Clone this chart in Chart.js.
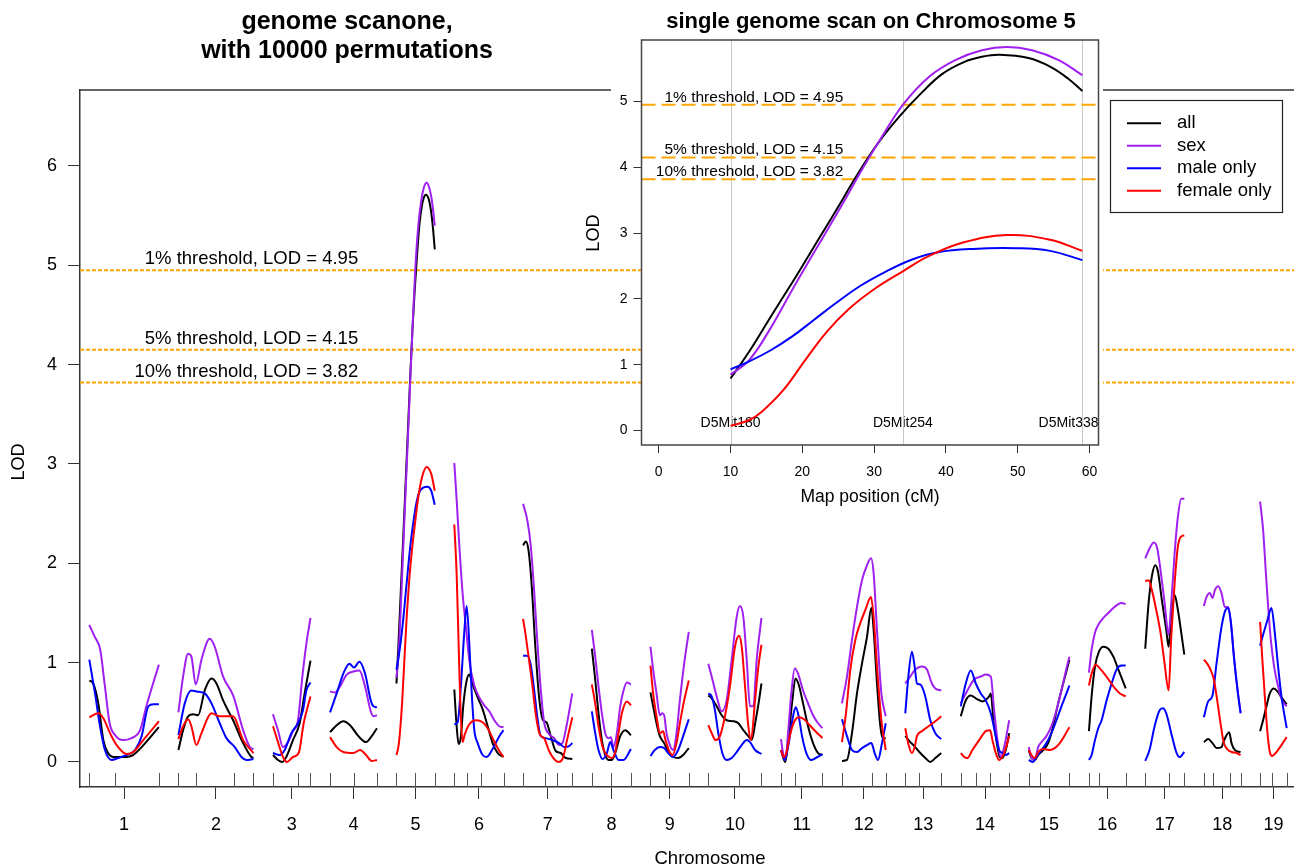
<!DOCTYPE html>
<html><head><meta charset="utf-8">
<script src="https://cdn.jsdelivr.net/npm/chart.js@4.4.1/dist/chart.umd.min.js"></script>
<style>
html,body{margin:0;padding:0;background:#fff;overflow:hidden;}
#wrap{position:relative;width:1294px;height:867px;overflow:hidden;background:#fff;}
#main{position:absolute;left:0;top:0;}
#inset{position:absolute;left:570px;top:0;}
</style></head><body>
<div id="wrap"><canvas id="main" width="1400" height="867"></canvas><canvas id="inset" width="533" height="506"></canvas></div>
<script>
// ---------------- data ----------------
const chromosomes = ['1','2','3','4','5','6','7','8','9','10','11','12','13','14','15','16','17','18','19'];
// marker positions (cM) per chromosome
const markers = [
  [0,33,89],[0,23,71,96],[0,32,48],[0,31,60],[10,34,59],[0,16,34,63],[0,28,44,63],
  [0,24,50],[0,18,49],[0,39,68],[0,18,53],[0,38,56],[0,17,46],[0,19,38,62],
  [0,15,52],[0,13,47],[0,30,50],[0,12,33,47],[0,15,34]
];
const chrGap = 25;
const seriesNames = ['all','sex','male only','female only'];
const seriesColors = ['#000000','#A020F0','#0000FF','#FF0000'];
const thresholds = [4.95, 4.15, 3.82];
const thresholdLabels = ['1% threshold, LOD = 4.95','5% threshold, LOD = 4.15','10% threshold, LOD = 3.82'];
const chr5MarkerNames = ['D5Mit180','D5Mit254','D5Mit338'];
const mainYTicks = [0,1,2,3,4,5,6];
const insetXTicks = [0,10,20,30,40,50,60];
const insetYTicks = [0,1,2,3,4,5];

// chromosome 5 scan (cM, LOD)
const chr5All = [[10,0.79],[12.6,1.20],[15.6,1.73],[18.6,2.25],[21,2.68],[23,3.04],[25,3.40],[27.5,3.86],[30.5,4.36],[33.5,4.77],[36.5,5.12],[39.5,5.42],[42.5,5.60],[45,5.68],[47.5,5.71],[51.5,5.66],[54.5,5.53],[57,5.35],[59,5.16]];
const chr5Sex = [[10,0.85],[12.6,1.07],[15.6,1.56],[18.6,2.14],[21.6,2.70],[23.6,3.07],[26,3.52],[28.5,4.00],[31,4.45],[34,4.95],[37.7,5.38],[41.3,5.63],[45,5.78],[48.5,5.83],[52,5.78],[55.7,5.63],[59,5.40]];
const chr5Male = [[10,0.93],[12.6,1.05],[15.6,1.22],[18.6,1.43],[21.6,1.68],[24.6,1.93],[28.1,2.20],[31.7,2.42],[35.3,2.60],[38.9,2.71],[43.7,2.76],[49.7,2.77],[54.5,2.73],[59,2.59]];
const chr5Female = [[10,0.07],[12.6,0.16],[14.4,0.29],[17.4,0.62],[20.4,1.07],[23.4,1.50],[26.4,1.84],[29.9,2.14],[34,2.42],[37.4,2.64],[42.5,2.86],[48.5,2.97],[54.5,2.90],[59,2.73]];

// genome-wide scans, one list of (cM, LOD) per chromosome
const lodAll = [
  [[0,0.82],[5,0.79],[11.5,0.59],[18,0.22],[24,0.09],[30.7,0.05],[43.5,0.05],[56,0.07],[67,0.15],[89,0.35]],
  [[0,0.12],[6,0.32],[12.4,0.46],[18.8,0.48],[25.2,0.47],[33.7,0.72],[42.3,0.84],[48.7,0.79],[57.2,0.62],[70,0.42],[82.8,0.19],[93.4,0.05],[96,0.04]],
  [[0,0.07],[6.4,0.02],[12,0.0],[17,0.05],[25.6,0.22],[34.1,0.39],[40.5,0.69],[48,1.02]],
  [[0,0.30],[8.5,0.37],[17,0.41],[25.6,0.37],[36.3,0.26],[46.1,0.20],[53.3,0.26],[60,0.34]],
  chr5All,
  [[0,0.73],[3,0.36],[5.5,0.18],[8.5,0.26],[11.5,0.57],[15.8,0.82],[19.2,0.88],[23.5,0.78],[29.9,0.65],[36.3,0.53],[42.7,0.36],[49,0.19],[55.5,0.09],[63,0.05]],
  [[0,2.18],[3.4,2.22],[6.8,2.14],[11.1,1.77],[15.4,1.19],[20.5,0.65],[25.6,0.42],[29.9,0.40],[35.4,0.26],[41.8,0.11],[48.2,0.09],[54.6,0.04],[63,0.03]],
  [[0,1.14],[4.3,0.83],[8.5,0.49],[12.8,0.22],[17.1,0.07],[21.3,0.02],[25.6,0.02],[29.9,0.09],[36.3,0.26],[42.7,0.32],[50,0.27]],
  [[0,0.70],[3.4,0.56],[7.7,0.39],[12,0.26],[17.5,0.19],[22.6,0.10],[29,0.05],[35.4,0.04],[41.8,0.07],[49,0.14]],
  [[0,0.67],[4.3,0.64],[10.7,0.56],[17.1,0.47],[23.5,0.42],[32,0.41],[38.4,0.39],[44.8,0.32],[51.2,0.26],[55.5,0.22],[60.6,0.42],[64.9,0.62],[68,0.79]],
  [[0,0.12],[2.6,0.05],[5.5,0.0],[9.8,0.26],[14.5,0.62],[18.4,0.84],[22.6,0.78],[28.2,0.59],[34.6,0.36],[41,0.19],[47.4,0.09],[53,0.07]],
  [[0,0.01],[6.4,0.02],[12.8,0.29],[19.2,0.69],[25.6,0.99],[32,1.26],[37.6,1.55],[40.5,1.33],[44.8,0.79],[49.1,0.36],[52.1,0.24],[56,0.24]],
  [[0,0.26],[6.4,0.20],[12.8,0.15],[19.2,0.09],[25.6,0.04],[32,0.0],[38.4,0.04],[46,0.09]],
  [[0,0.46],[6.4,0.62],[12.8,0.67],[19.2,0.64],[27.7,0.61],[36.3,0.66],[38.4,0.69],[41.8,0.42],[46.1,0.19],[49.9,0.05],[53.3,0.04],[57.6,0.12],[62,0.29]],
  [[0,0.12],[3.4,0.04],[7.7,0.02],[12,0.07],[18.4,0.12],[24.8,0.19],[31.2,0.36],[37.6,0.59],[44,0.79],[49.1,0.94],[52,1.03]],
  [[0,0.31],[3.4,0.66],[7.7,0.96],[12.8,1.11],[18.4,1.16],[24.8,1.14],[31.2,1.06],[37.6,0.93],[42.7,0.83],[47,0.74]],
  [[0,1.14],[4.3,1.60],[8.5,1.87],[12.8,1.98],[16.2,1.92],[21.3,1.63],[26.9,1.33],[29.9,1.16],[33.3,1.46],[37.6,1.68],[41.8,1.53],[46.1,1.30],[50,1.08]],
  [[0,0.20],[5.5,0.23],[11.1,0.19],[16.2,0.14],[22.6,0.15],[26,0.22],[32.4,0.30],[35.4,0.19],[39.7,0.12],[47,0.10]],
  [[0,0.31],[3.8,0.42],[8.1,0.56],[12.4,0.69],[17.5,0.74],[22.2,0.71],[27.3,0.65],[34,0.58]]
];
const lodSex = [
  [[0,1.38],[7,1.26],[14,1.13],[20,0.76],[26,0.39],[33,0.27],[43,0.22],[54,0.24],[65,0.32],[73,0.56],[89,0.98]],
  [[0,0.50],[6,0.86],[12.4,1.09],[16.6,1.06],[22.2,0.78],[29.5,1.03],[40.1,1.24],[46.5,1.16],[57.2,0.86],[70,0.67],[82.8,0.32],[91.3,0.15],[96,0.13]],
  [[0,0.48],[6.4,0.32],[12.8,0.15],[19.2,0.20],[25.6,0.31],[32,0.42],[37.6,0.86],[42.7,1.19],[48,1.45]],
  [[0,0.71],[6.4,0.70],[12.8,0.76],[21.3,0.88],[29.9,0.91],[37.6,0.92],[44.8,0.76],[52.1,0.51],[55.5,0.46],[60,0.47]],
  chr5Sex,
  [[0,3.01],[3,2.64],[6.4,2.18],[10.7,1.69],[15,1.35],[19.2,1.02],[25.6,0.77],[32,0.65],[38.4,0.57],[44.8,0.51],[51.2,0.42],[57.6,0.36],[63,0.35]],
  [[0,2.60],[5.5,2.43],[9.8,2.18],[14.1,1.73],[18.4,1.19],[22.6,0.73],[26.9,0.40],[33.3,0.28],[39.7,0.24],[46.1,0.17],[50.4,0.19],[55.5,0.36],[63,0.69]],
  [[0,1.33],[4.3,1.06],[8.5,0.76],[12.8,0.49],[17.1,0.29],[21.3,0.24],[24.3,0.25],[27.7,0.15],[32,0.29],[36.3,0.56],[40.5,0.72],[44.8,0.80],[50,0.78]],
  [[0,1.16],[3.4,0.93],[7.7,0.69],[12,0.47],[15,0.49],[17.5,0.47],[20.5,0.29],[24.8,0.17],[29,0.12],[33.3,0.29],[37.6,0.62],[43.1,0.99],[49,1.31]],
  [[0,0.99],[4.3,0.86],[10.7,0.66],[17.1,0.51],[23.5,0.62],[29.9,1.03],[36.3,1.46],[40.5,1.57],[44.8,1.46],[49.1,1.03],[53.3,0.56],[57.6,0.56],[61.9,1.03],[68,1.45]],
  [[0,0.23],[2.6,0.09],[5.5,0.02],[9,0.29],[13.2,0.69],[17.5,0.94],[21.8,0.89],[28.2,0.72],[34.6,0.59],[41,0.47],[47.4,0.39],[53,0.34]],
  [[0,0.59],[6.4,0.86],[12.8,1.23],[19.2,1.56],[25.6,1.83],[32,1.98],[37.1,2.05],[40.5,1.90],[44.8,1.33],[50.4,0.69],[56,0.46]],
  [[0,0.79],[6.4,0.86],[12.8,0.93],[21.3,0.96],[27.7,0.93],[34.1,0.79],[38.4,0.74],[46,0.72]],
  [[0,0.59],[8.5,0.72],[17.1,0.83],[25.6,0.86],[32,0.88],[38.4,0.86],[42.7,0.52],[47,0.22],[51.2,0.05],[55.5,0.15],[62,0.42]],
  [[0,0.15],[3.4,0.05],[7.7,0.02],[12,0.15],[16.2,0.20],[22.6,0.26],[29,0.36],[35.4,0.52],[41.8,0.72],[48.2,0.94],[52,1.06]],
  [[0,0.90],[3.4,1.13],[7.7,1.30],[11.9,1.38],[18.4,1.45],[24.8,1.50],[31.2,1.55],[37.6,1.59],[41.8,1.60],[47,1.59]],
  [[0,2.05],[5.5,2.15],[11.1,2.21],[15.4,2.15],[19.6,1.93],[24.8,1.60],[29.9,1.28],[33.3,1.60],[37.6,2.10],[41.8,2.47],[46.1,2.65],[50,2.65]],
  [[0,1.57],[3.4,1.66],[7.7,1.70],[11.1,1.65],[14.1,1.73],[18.4,1.77],[22.6,1.70],[26.9,1.56],[31.2,1.56],[34.6,1.41],[38.8,1.04],[43.1,0.73],[47,0.50]],
  [[0,2.62],[3.8,2.34],[7.3,1.91],[10.2,1.57],[13.7,1.23],[17.9,0.96],[23,0.76],[28.2,0.62],[34,0.56]]
];
const lodMale = [
  [[0,1.03],[7.3,0.69],[13.7,0.36],[20,0.12],[28.6,0.02],[37,0.04],[47.8,0.07],[58.5,0.12],[67,0.26],[75.5,0.56],[82,0.58],[89,0.58]],
  [[0,0.27],[8.1,0.59],[16.6,0.72],[23,0.71],[33.7,0.69],[42.3,0.59],[52.9,0.39],[61.5,0.24],[72.1,0.15],[80.7,0.05],[87,0.02],[96,0.03]],
  [[0,0.09],[8.5,0.07],[15,0.12],[23.5,0.29],[32,0.39],[38.4,0.52],[42.7,0.72],[48,0.80]],
  [[0,0.50],[8.5,0.69],[17,0.89],[24.8,0.99],[30.7,0.95],[37.6,1.01],[44.8,0.89],[52.1,0.62],[55.5,0.56],[60,0.55]],
  chr5Male,
  [[0,0.38],[4.3,0.40],[8.5,0.77],[12.8,1.31],[15.8,1.57],[19.2,1.19],[22.6,0.65],[25.6,0.32],[29.9,0.19],[36.3,0.07],[41.4,0.05],[49,0.13],[57.6,0.26],[63,0.32]],
  [[0,1.07],[5.5,1.07],[9.8,0.98],[14.1,0.73],[18.4,0.44],[22.6,0.26],[29,0.24],[37.6,0.22],[46.1,0.19],[52.5,0.15],[58.9,0.16],[63,0.19]],
  [[0,0.51],[4.3,0.29],[8.5,0.12],[13.7,0.03],[19.2,0.09],[23.5,0.20],[27.7,0.12],[34.1,0.02],[40.5,0.02],[50,0.13]],
  [[0,0.06],[5.5,0.12],[12,0.15],[17.5,0.14],[22.6,0.09],[29,0.05],[35.4,0.12],[41.8,0.26],[49,0.43]],
  [[0,0.69],[4.3,0.66],[8.5,0.52],[12.8,0.29],[17.9,0.09],[23.5,0.02],[29.9,0.04],[36.3,0.10],[42.7,0.17],[49.1,0.22],[53.3,0.20],[59.8,0.12],[68,0.08]],
  [[0,0.12],[4.7,0.02],[9,0.15],[15.4,0.46],[18.8,0.55],[22.6,0.46],[26.9,0.26],[32.4,0.09],[38.8,0.02],[46.5,0.05],[53,0.08]],
  [[0,0.43],[6.4,0.26],[12.8,0.12],[19.2,0.10],[25.6,0.14],[32,0.17],[37.6,0.19],[41.8,0.09],[46.1,0.02],[51.2,0.19],[56,0.39]],
  [[0,0.49],[4.3,0.89],[8.5,1.11],[12,0.96],[14.9,0.79],[19.2,0.78],[25.6,0.66],[32,0.42],[38.4,0.29],[46,0.23]],
  [[0,0.56],[6.4,0.79],[12.8,0.92],[19.2,0.79],[25.6,0.69],[32,0.62],[38.4,0.49],[44.8,0.26],[49.1,0.12],[53.3,0.09],[57.6,0.07],[62,0.09]],
  [[0,0.02],[5.5,0.0],[9.8,0.05],[16.2,0.12],[22.6,0.19],[29,0.29],[35.4,0.42],[41.8,0.56],[48.2,0.69],[52,0.77]],
  [[0,0.02],[3.4,0.07],[7.7,0.22],[11.9,0.34],[16.2,0.42],[22.6,0.62],[29,0.79],[35.4,0.93],[41.8,0.97],[47,0.97]],
  [[0,0.01],[5.5,0.12],[12,0.36],[18.4,0.52],[22.6,0.54],[26.9,0.49],[33.3,0.29],[39.7,0.10],[44,0.05],[50,0.10]],
  [[0,0.45],[5.5,0.61],[11.1,0.67],[16.2,0.99],[22.6,1.36],[27.7,1.53],[31.2,1.55],[34.6,1.40],[38.8,1.03],[43.1,0.72],[47,0.49]],
  [[0,1.17],[3.8,1.28],[9.4,1.43],[14.5,1.55],[18.8,1.30],[23,0.96],[27.3,0.66],[34,0.34]]
];
const lodFemale = [
  [[0,0.45],[11.5,0.49],[17.9,0.44],[26.5,0.29],[35,0.17],[47.8,0.08],[56.3,0.10],[69,0.22],[89,0.41]],
  [[0,0.23],[6,0.36],[12.4,0.43],[16.6,0.36],[23,0.17],[29.5,0.29],[42.3,0.49],[52.9,0.46],[70,0.46],[82.8,0.22],[96,0.09]],
  [[0,0.36],[6.4,0.20],[12.8,0.05],[17.9,0.0],[25.6,0.05],[32.9,0.09],[39.3,0.39],[48,0.66]],
  [[0,0.25],[8.5,0.15],[17,0.10],[29.9,0.09],[38.4,0.12],[46.1,0.07],[53.3,0.01],[60,0.02]],
  chr5Female,
  [[0,2.39],[3,1.89],[5.5,1.19],[7.8,0.57],[10.5,0.20],[13.5,0.28],[19.2,0.38],[27.7,0.42],[36.3,0.40],[42.7,0.34],[49,0.24],[57.6,0.11],[63,0.05]],
  [[0,1.44],[3.4,1.27],[7.7,1.02],[11.9,0.77],[16.2,0.48],[21.3,0.28],[26.9,0.24],[33.3,0.11],[39.7,0.03],[45.2,0.0],[50.4,0.03],[56.8,0.24],[63,0.45]],
  [[0,0.78],[4.3,0.59],[8.5,0.36],[13.7,0.15],[19.2,0.07],[25.6,0.04],[29.9,0.10],[34.1,0.29],[38.4,0.49],[44.8,0.61],[50,0.57]],
  [[0,0.97],[3.4,0.69],[7.7,0.46],[12,0.29],[16.2,0.31],[19.2,0.22],[23.5,0.12],[28.2,0.07],[33.3,0.19],[37.6,0.39],[43.1,0.62],[49,0.82]],
  [[0,0.37],[4.3,0.29],[9.4,0.22],[14.9,0.26],[21.3,0.46],[27.7,0.76],[34.1,1.16],[39.3,1.27],[42.7,1.16],[47,0.76],[51.2,0.36],[54.6,0.22],[59.8,0.62],[64,0.96],[68,1.18]],
  [[0,0.12],[3.4,0.05],[6.8,0.09],[11.1,0.26],[16.6,0.40],[22.6,0.45],[29.4,0.43],[36.7,0.37],[44,0.31],[53,0.24]],
  [[0,0.20],[5.1,0.49],[10.7,0.93],[17.1,1.23],[23.5,1.40],[29.9,1.53],[37.1,1.66],[40.5,1.46],[44.8,0.96],[50.4,0.42],[56,0.12]],
  [[0,0.34],[4.3,0.17],[8.5,0.09],[12,0.15],[14.9,0.26],[21.3,0.31],[29.9,0.36],[38.4,0.41],[46,0.46]],
  [[0,0.09],[4.3,0.05],[8.5,0.04],[14.9,0.12],[23.5,0.22],[32,0.31],[37.6,0.32],[40.5,0.22],[44.8,0.09],[49.1,0.02],[55.5,0.09],[62,0.26]],
  [[0,0.12],[3.4,0.07],[7.7,0.04],[12,0.10],[18.4,0.13],[26.9,0.12],[33.3,0.14],[39.7,0.19],[46.1,0.27],[52,0.35]],
  [[0,0.77],[3.4,0.89],[8.5,0.98],[14.1,0.94],[20.5,0.88],[26.9,0.81],[33.3,0.74],[39.7,0.69],[47,0.66]],
  [[0,1.82],[4.3,1.83],[8.5,1.73],[14.1,1.53],[19.6,1.30],[24.8,0.99],[29.9,0.72],[33.3,1.26],[37.6,1.80],[41.8,2.17],[46.1,2.27],[50,2.28]],
  [[0,1.03],[4.3,0.99],[8.5,0.93],[12.8,0.83],[17.1,0.62],[21.3,0.39],[25.6,0.19],[29.9,0.13],[35.4,0.10],[41.8,0.09],[47,0.07]],
  [[0,1.41],[2.6,1.06],[6,0.66],[9.4,0.29],[12.4,0.10],[15.4,0.06],[20.9,0.10],[27.3,0.17],[34,0.25]]
];
const seriesData = [lodAll, lodSex, lodMale, lodFemale];
const chr5Series = [chr5All, chr5Sex, chr5Male, chr5Female];

// ---------------- layout helpers ----------------
const FONT = '"Liberation Sans", Arial, Helvetica, sans-serif';
const offsets = [];
(function(){ let acc = 0; markers.forEach(m => { offsets.push(acc - m[0]); acc += (m[m.length-1] - m[0]) + chrGap; }); })();
const chrMid = markers.map((m,i) => offsets[i] + (m[0] + m[m.length-1]) / 2);
const genomeMin = -11.9, genomeMax = 1600.2;
const mainYMin = -0.252, mainYMax = 6.765;
const mainLabelX = 344;      // genome cM where threshold labels end
const insetLabelX = 25.7;    // cM where inset threshold labels end

function genomeData(series) {
  const out = [];
  series.forEach((pts, c) => {
    pts.forEach(([p, v]) => out.push({x: offsets[c] + p, y: v}));
    const m = markers[c];
    out.push({x: offsets[c] + m[m.length-1] + chrGap / 2, y: null});
  });
  return out;
}

// ---------------- main chart ----------------
const mainDatasets = seriesNames.map((n, i) => ({
  label: n, data: genomeData(seriesData[i]), borderColor: seriesColors[i],
  borderWidth: 2, pointRadius: 0, spanGaps: false, cubicInterpolationMode: 'monotone', order: 4 - i
}));
thresholds.forEach((t, i) => mainDatasets.push({
  label: thresholdLabels[i], data: [{x: genomeMin, y: t}, {x: genomeMax, y: t}],
  borderColor: '#FFA500', borderWidth: 2, borderDash: [4, 2], pointRadius: 0, order: 10
}));

const mainDecor = {
  id: 'mainDecor',
  afterDatasetsDraw(chart) {
    const {ctx, chartArea: a, scales: {x, y}} = chart;
    ctx.save();
    ctx.fillStyle = '#000'; ctx.font = `18.5px ${FONT}`; ctx.textAlign = 'right'; ctx.textBaseline = 'alphabetic';
    thresholds.forEach((t, i) => ctx.fillText(thresholdLabels[i], x.getPixelForValue(mainLabelX), y.getPixelForValue(t) - 6));
    ctx.strokeStyle = '#555'; ctx.lineWidth = 1;
    markers.forEach((m, c) => m.forEach(p => {
      const px = Math.round(x.getPixelForValue(offsets[c] + p)) + 0.5;
      ctx.beginPath(); ctx.moveTo(px, a.bottom); ctx.lineTo(px, a.bottom - 14); ctx.stroke();
    }));
    ctx.strokeStyle = '#333'; ctx.lineWidth = 1.5;
    ctx.beginPath(); ctx.moveTo(a.left, a.top); ctx.lineTo(a.right, a.top); ctx.stroke();
    ctx.restore();
  },
  afterDraw(chart) {
    const {ctx, scales: {y}} = chart;
    ctx.save();
    ctx.fillStyle = '#000';
    ctx.save(); ctx.translate(19, y.getPixelForValue(3) - 2); ctx.rotate(-Math.PI / 2);
    ctx.font = `18px ${FONT}`; ctx.textAlign = 'center'; ctx.textBaseline = 'middle';
    ctx.fillText('LOD', 0, 0); ctx.restore();
    ctx.font = `bold 25px ${FONT}`; ctx.textAlign = 'center'; ctx.textBaseline = 'middle';
    ctx.fillText('genome scanone,', 347, 22);
    ctx.fillText('with 10000 permutations', 347, 51);
    const lx = 1110, ly = 100, lw = 172, lh = 112;
    ctx.fillStyle = '#fff'; ctx.fillRect(lx, ly, lw, lh);
    ctx.strokeStyle = '#222'; ctx.lineWidth = 1.2; ctx.strokeRect(lx + 0.5, ly + 0.5, lw, lh);
    ctx.font = `18.5px ${FONT}`; ctx.textAlign = 'left'; ctx.textBaseline = 'middle';
    chart.data.datasets.slice(0, 4).forEach((d, i) => {
      const yy = ly + 23.3 + i * 22.5;
      ctx.strokeStyle = d.borderColor; ctx.lineWidth = 2;
      ctx.beginPath(); ctx.moveTo(lx + 17, yy); ctx.lineTo(lx + 51, yy); ctx.stroke();
      ctx.fillStyle = '#000'; ctx.fillText(d.label, lx + 67, yy);
    });
    ctx.restore();
  }
};

new Chart(document.getElementById('main'), {
  type: 'line',
  data: {datasets: mainDatasets},
  options: {
    responsive: false, animation: false, events: [],
    layout: {padding: {top: 90, left: 0, right: 60, bottom: 0}},
    plugins: {legend: {display: false}, tooltip: {enabled: false}, title: {display: false}},
    scales: {
      x: {
        type: 'linear', min: genomeMin, max: genomeMax,
        afterBuildTicks: s => { s.ticks = chrMid.map(v => ({value: v})); },
        afterFit: s => { s.height = 80; s.paddingLeft = 0; s.paddingRight = 0; },
        ticks: {autoSkip: false, maxRotation: 0, padding: 15, color: '#000', font: {family: FONT, size: 18},
                callback: (v, i) => chromosomes[i]},
        grid: {drawOnChartArea: false, drawTicks: true, tickLength: 12, color: '#333', lineWidth: 1},
        border: {display: true, color: '#333', width: 1.5},
        title: {display: true, text: 'Chromosome', color: '#000', font: {family: FONT, size: 18.5, lineHeight: 0.85}, padding: 0}
      },
      y: {
        type: 'linear', min: mainYMin, max: mainYMax,
        afterBuildTicks: s => { s.ticks = mainYTicks.map(v => ({value: v})); },
        afterFit: s => { s.width = 80; },
        ticks: {padding: 11, color: '#000', font: {family: FONT, size: 18}, callback: v => String(v)},
        grid: {drawOnChartArea: false, drawTicks: true, tickLength: 12, color: '#333', lineWidth: 1},
        border: {display: true, color: '#333', width: 1.5}
      }
    }
  },
  plugins: [mainDecor]
});

// ---------------- inset chart (chromosome 5) ----------------
const insetXMin = -2.4, insetXMax = 61.25, insetYMin = -0.22, insetYMax = 5.935;
const insetDatasets = seriesNames.map((n, i) => ({
  label: n, data: chr5Series[i].map(([p, v]) => ({x: p, y: v})), borderColor: seriesColors[i],
  borderWidth: 2, pointRadius: 0, tension: 0.4, order: 4 - i
}));
thresholds.forEach((t, i) => insetDatasets.push({
  label: thresholdLabels[i], data: [{x: insetXMin, y: t}, {x: insetXMax, y: t}],
  borderColor: '#FFA500', borderWidth: 2, borderDash: [14, 6], pointRadius: 0, order: 10
}));

const insetDecor = {
  id: 'insetDecor',
  beforeDraw(chart) {
    const {ctx, chartArea: a, width} = chart;
    ctx.save(); ctx.fillStyle = '#fff';
    ctx.fillRect(41, 0, width - 41, a.top + 62);
    ctx.fillRect(a.left, a.top, width - a.left, a.bottom - a.top);
    ctx.restore();
  },
  beforeDatasetsDraw(chart) {
    const {ctx, chartArea: a, scales: {x, y}} = chart;
    ctx.save();
    ctx.font = `14px ${FONT}`; ctx.fillStyle = '#000'; ctx.textAlign = 'center'; ctx.textBaseline = 'middle';
    markers[4].forEach((p, i) => {
      const w = ctx.measureText(chr5MarkerNames[i]).width;
      const px = Math.min(x.getPixelForValue(p), a.right - w / 2);
      ctx.fillText(chr5MarkerNames[i], px, y.getPixelForValue(0) - 7);
    });
    ctx.strokeStyle = '#c8c8c8'; ctx.lineWidth = 1;
    markers[4].forEach(p => {
      const px = Math.round(x.getPixelForValue(p)) + 0.5;
      ctx.beginPath(); ctx.moveTo(px, a.top); ctx.lineTo(px, a.bottom); ctx.stroke();
    });
    ctx.restore();
  },
  afterDatasetsDraw(chart) {
    const {ctx, chartArea: a, scales: {x, y}} = chart;
    ctx.save();
    ctx.fillStyle = '#000'; ctx.font = `15.5px ${FONT}`; ctx.textAlign = 'right'; ctx.textBaseline = 'alphabetic';
    thresholds.forEach((t, i) => ctx.fillText(thresholdLabels[i], x.getPixelForValue(insetLabelX), y.getPixelForValue(t) - 3));
    ctx.strokeStyle = '#444'; ctx.lineWidth = 1.5;
    ctx.strokeRect(a.left, a.top, a.right - a.left, a.bottom - a.top);
    ctx.restore();
  },
  afterDraw(chart) {
    const {ctx, scales: {y}} = chart;
    ctx.save(); ctx.fillStyle = '#000';
    ctx.font = `bold 22px ${FONT}`; ctx.textAlign = 'center'; ctx.textBaseline = 'middle';
    ctx.fillText('single genome scan on Chromosome 5', 301, 22);
    ctx.translate(24, y.getPixelForValue(3)); ctx.rotate(-Math.PI / 2);
    ctx.font = `18px ${FONT}`; ctx.fillText('LOD', 0, 0);
    ctx.restore();
  }
};

new Chart(document.getElementById('inset'), {
  type: 'line',
  data: {datasets: insetDatasets},
  options: {
    responsive: false, animation: false, events: [],
    layout: {padding: {top: 40, left: 0, right: 4.5, bottom: 0}},
    plugins: {legend: {display: false}, tooltip: {enabled: false}},
    scales: {
      x: {
        type: 'linear', min: insetXMin, max: insetXMax,
        afterBuildTicks: s => { s.ticks = insetXTicks.map(v => ({value: v})); },
        afterFit: s => { s.height = 61; s.paddingLeft = 0; s.paddingRight = 0; },
        ticks: {autoSkip: false, maxRotation: 0, padding: 11, color: '#000', font: {family: FONT, size: 14}, callback: v => String(v)},
        grid: {drawOnChartArea: false, drawTicks: true, tickLength: 8, color: '#333', lineWidth: 1},
        border: {display: false},
        title: {display: true, text: 'Map position (cM)', color: '#000', font: {family: FONT, size: 17.5, lineHeight: 1}, padding: 0}
      },
      y: {
        type: 'linear', min: insetYMin, max: insetYMax,
        afterBuildTicks: s => { s.ticks = insetYTicks.map(v => ({value: v})); },
        afterFit: s => { s.width = 71.5; s.paddingTop = 0; s.paddingBottom = 0; },
        ticks: {padding: 6, color: '#000', font: {family: FONT, size: 14}, callback: v => String(v)},
        grid: {drawOnChartArea: false, drawTicks: true, tickLength: 8, color: '#333', lineWidth: 1},
        border: {display: false}
      }
    }
  },
  plugins: [insetDecor]
});
</script>
</body></html>
